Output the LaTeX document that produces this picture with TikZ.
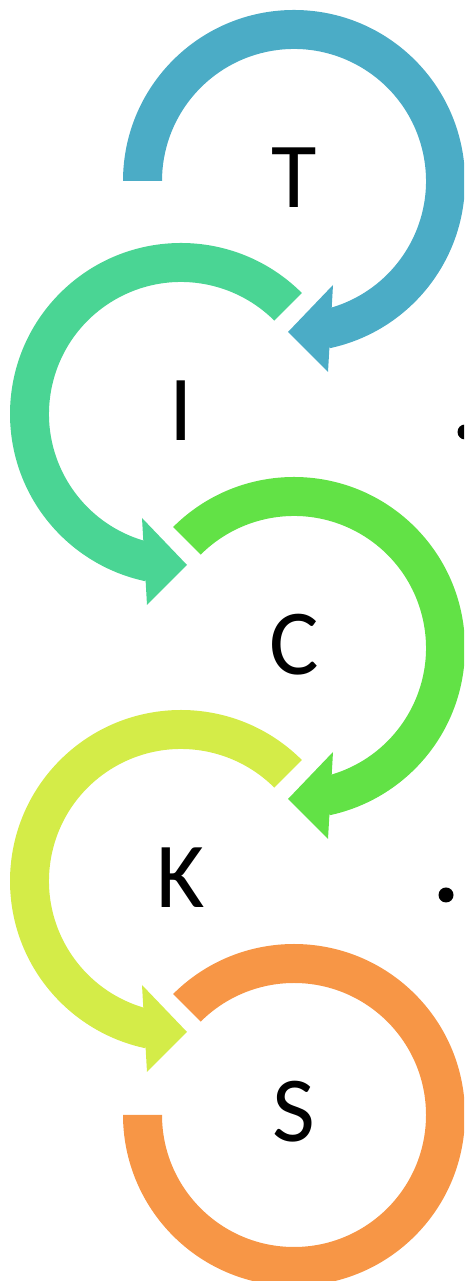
\documentclass[tikz,border=0pt]{standalone}
\usepackage{fontspec}
\setmainfont{Carlito}
\definecolor{colT}{HTML}{4BACC6}
\definecolor{colI}{HTML}{4AD594}
\definecolor{colC}{HTML}{62E246}
\definecolor{colK}{HTML}{D4EC48}
\definecolor{colS}{HTML}{F79646}
\tikzset{
  letter/.style={font=\fontsize{93}{100}\selectfont, anchor=base, inner sep=0pt},
  dotmark/.style={fill=black},
  pics/ringarrow/.style={code={
    \fill[pic actions] (#1:171) arc[start angle=#1, end angle=-78, radius=171]
      -- (-78:132) arc[start angle=-78, end angle=#1, radius=132] -- cycle;
    \fill[pic actions] (-6,-151) -- (39,-104) -- (34,-191) -- cycle;
  }}
}
\begin{document}
\begin{tikzpicture}[x=1pt,y=1pt]
\useasboundingbox (0,0) rectangle (464,1281);
\clip (0,0) rectangle (464,1281);
% circle centres
\coordinate (cT) at (294,1100);
\coordinate (cI) at (181,867);
\coordinate (cC) at (294,633);
\coordinate (cK) at (181,400);
\coordinate (cS) at (294,166);
% rings with arrowheads
\pic[fill=colT] at (cT) {ringarrow=180};
\pic[fill=colI, xscale=-1] at (cI) {ringarrow=135};
\pic[fill=colC] at (cC) {ringarrow=135};
\pic[fill=colK, xscale=-1] at (cK) {ringarrow=135};
\begin{scope}[shift={(cS)}]
  \fill[colS] (135:171) arc[start angle=135, end angle=-180, radius=171]
    -- (180:132) arc[start angle=-180, end angle=135, radius=132] -- cycle;
\end{scope}
% letters
\node[letter] (T) at (294,1073) {T};
\node[letter] (I) at (181,840) {I};
\node[letter] (C) at (294,606) {C};
\node[letter] (K) at (181,373) {K};
\node[letter] (S) at (294,139) {S};
% dots
\fill[dotmark] (465,849) circle[radius=7.5];
\fill[dotmark] (446,386) circle[radius=7.5];
\end{tikzpicture}
\end{document}
